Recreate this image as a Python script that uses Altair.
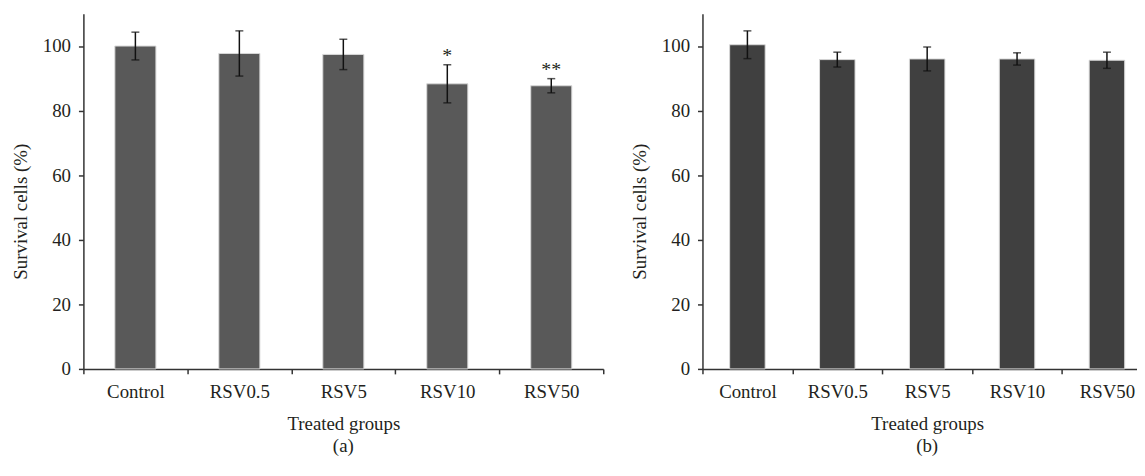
import altair as alt
import pandas as pd

groups = ["Control", "RSV0.5", "RSV5", "RSV10", "RSV50"]

# Panel (a)
a_mean = [100.0, 97.7, 97.4, 88.3, 87.7]
a_err = [4.3, 7.0, 4.7, 5.9, 2.2]
a_sig = ["", "", "", "*", "**"]

# Panel (b)
b_mean = [100.4, 95.8, 96.0, 96.0, 95.6]
b_err = [4.3, 2.3, 3.7, 1.9, 2.5]
b_sig = ["", "", "", "", ""]

FONT = "Liberation Serif"
TXT = "#231f20"
AX = "#333333"


def panel(means, errs, sigs, color, width, label):
    df = pd.DataFrame({
        "group": groups,
        "mean": means,
        "lo": [m - e for m, e in zip(means, errs)],
        "hi": [m + e for m, e in zip(means, errs)],
        "sig": sigs,
    })
    x = alt.X(
        "group:N",
        sort=groups,
        scale=alt.Scale(paddingInner=0, paddingOuter=0),
        axis=alt.Axis(
            title="Treated groups",
            tickBand="extent",
            labelAngle=0,
            labelBaseline="alphabetic", labelPadding=24,
            titleBaseline="alphabetic", titleAlign="center",
            titleX=width / 2, titleY=61,
        ),
    )
    y_axis = alt.Axis(
        title="Survival cells (%)",
        values=[0, 20, 40, 60, 80, 100],
        grid=False,
        labelPadding=8,
        titleAngle=270, titleBaseline="middle", titleAlign="center",
        titleX=-63, titleY=199,
    )
    y = alt.Y("mean:Q", scale=alt.Scale(domain=[0, 110], nice=False), axis=y_axis)
    xs = alt.X("group:N", sort=groups)

    base = alt.Chart(df)
    bars = base.mark_bar(color=color, size=width / 5 * 0.395, stroke="#d9d9d9", strokeWidth=1).encode(x=x, y=y)
    rule = base.mark_rule(color="#111111", strokeWidth=1.5).encode(x=xs, y="lo:Q", y2="hi:Q")
    cap_lo = base.mark_tick(color="#111111", thickness=1.5, size=8).encode(x=xs, y="lo:Q")
    cap_hi = base.mark_tick(color="#111111", thickness=1.5, size=8).encode(x=xs, y="hi:Q")
    layers = [bars, rule, cap_lo, cap_hi]
    if any(s for s in sigs):
        stars = base.transform_filter(alt.datum.sig != "").mark_text(
            fontSize=20, color=TXT, baseline="alphabetic", dy=-3
        ).encode(x=xs, y="hi:Q", text="sig:N")
        layers.append(stars)
    return alt.layer(*layers).properties(
        width=width, height=358,
        title=alt.TitleParams(label, orient="bottom", offset=4, anchor="middle"),
    )


pa = panel(a_mean, a_err, a_sig, "#595959", 524, "(a)")
pb = panel(b_mean, b_err, b_sig, "#404040", 453, "(b)")

chart = alt.hconcat(pa, pb, spacing=27).properties(
    padding={"left": 4, "top": 4, "right": -16, "bottom": 0}
).configure_view(stroke=None).configure_axis(
    labelFont=FONT, labelFontSize=19, labelColor=TXT,
    titleFont=FONT, titleFontSize=19, titleFontWeight="normal", titleColor=TXT,
    domainColor=AX, domainWidth=1.5, tickColor=AX, tickWidth=1.5, tickSize=5,
).configure_text(font=FONT).configure_title(
    font=FONT, fontSize=19, fontWeight="normal", color=TXT
)

chart.save("out.html", embed_options={"renderer": "svg", "actions": False})
